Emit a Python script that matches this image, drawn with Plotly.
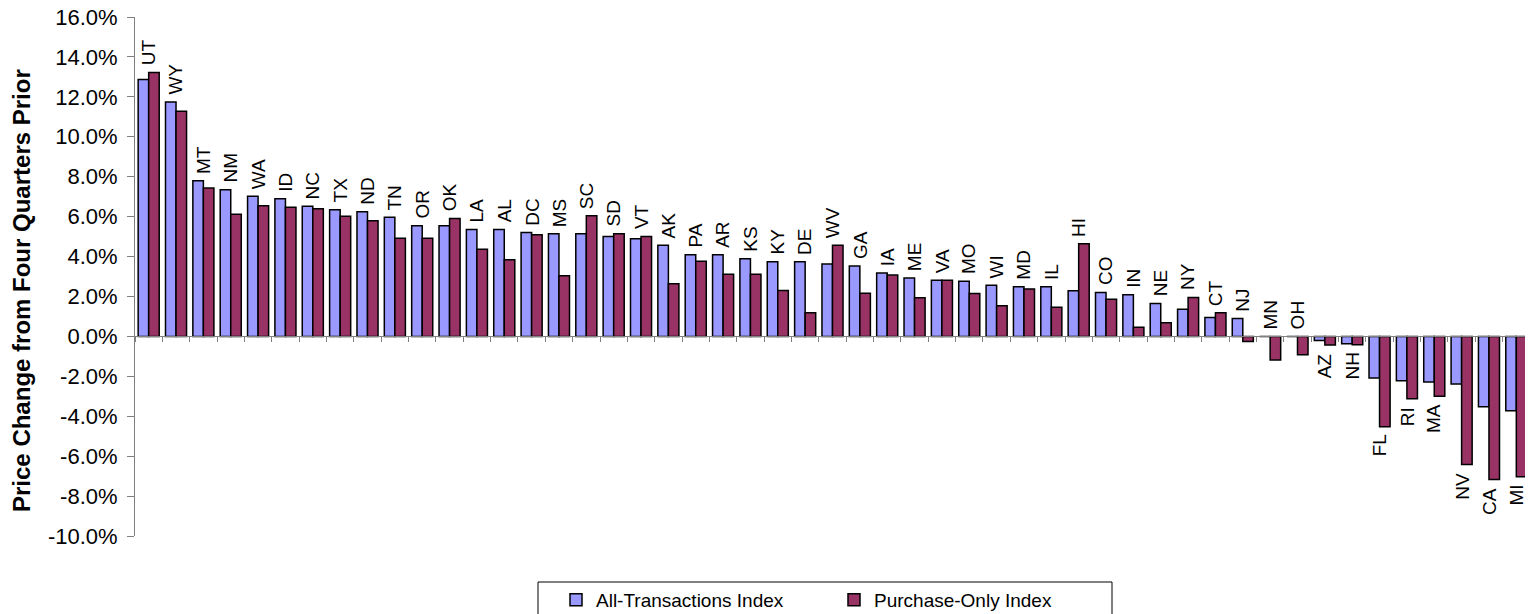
import plotly.graph_objects as go

states = ["UT", "WY", "MT", "NM", "WA", "ID", "NC", "TX", "ND", "TN", "OR", "OK", "LA",
          "AL", "DC", "MS", "SC", "SD", "VT", "AK", "PA", "AR", "KS", "KY", "DE", "WV",
          "GA", "IA", "ME", "VA", "MO", "WI", "MD", "IL", "HI", "CO", "IN", "NE", "NY",
          "CT", "NJ", "MN", "OH", "AZ", "NH", "FL", "RI", "MA", "NV", "CA", "MI"]

all_transactions = [12.87, 11.74, 7.80, 7.35, 7.02, 6.89, 6.52, 6.34, 6.24, 5.97, 5.54, 5.54, 5.35,
                    5.35, 5.20, 5.14, 5.14, 5.00, 4.89, 4.57, 4.09, 4.09, 3.89, 3.74, 3.74, 3.62,
                    3.52, 3.17, 2.92, 2.81, 2.76, 2.56, 2.49, 2.49, 2.28, 2.20, 2.08, 1.65, 1.36,
                    0.95, 0.90, 0.00, 0.00, -0.21, -0.37, -2.08, -2.22, -2.28, -2.38, -3.53, -3.72]

purchase_only = [13.22, 11.28, 7.43, 6.12, 6.55, 6.47, 6.39, 6.02, 5.79, 4.92, 4.92, 5.90, 4.37,
                 3.84, 5.09, 3.04, 6.04, 5.14, 5.00, 2.64, 3.76, 3.11, 3.11, 2.30, 1.18, 4.57,
                 2.16, 3.07, 1.93, 2.81, 2.15, 1.53, 2.38, 1.46, 4.64, 1.86, 0.46, 0.68, 1.95,
                 1.18, -0.25, -1.18, -0.92, -0.43, -0.42, -4.53, -3.13, -3.00, -6.42, -7.17, -7.03]

y_ticks = [-10, -8, -6, -4, -2, 0, 2, 4, 6, 8, 10, 12, 14, 16]
y_tick_text = ["%.1f%%" % v for v in y_ticks]

FONT = "Liberation Sans, Arial, sans-serif"
BLUE = "#9999FF"
PLUM = "#993366"

# the page body has an 8px margin; the figure is sized so that it fills the window
OFF = 8
W, H = 1533 - OFF, 614 - OFF
ML, MR, MT, MB = 135 - OFF, 3, 17 - OFF, 78
PW, PH = W - ML - MR, H - MT - MB


def px_x(page_x):
    return (page_x - OFF - ML) / PW


def px_y(page_y):
    return (H - MB - (page_y - OFF)) / PH


fig = go.Figure()
fig.add_trace(go.Bar(x=states, y=all_transactions, name="All-Transactions Index",
                     marker=dict(color=BLUE, line=dict(color="#000000", width=1.5))))
fig.add_trace(go.Bar(x=states, y=purchase_only, name="Purchase-Only Index",
                     marker=dict(color=PLUM, line=dict(color="#000000", width=1.5))))

annotations = []
for s, a, p in zip(states, all_transactions, purchase_only):
    top = max(a, p)
    if top >= 0:
        annotations.append(dict(x=s, y=top, text=s, textangle=-90, showarrow=False,
                                xref="x", yref="y", yanchor="bottom", xanchor="center",
                                yshift=5, font=dict(family=FONT, size=19, color="#000000")))
    else:
        annotations.append(dict(x=s, y=min(a, p), text=s, textangle=-90, showarrow=False,
                                xref="x", yref="y", yanchor="top", xanchor="center",
                                yshift=-6, font=dict(family=FONT, size=19, color="#000000")))

annotations.append(dict(text="<b>Price Change from Four Quarters Prior</b>", textangle=-90,
                        xref="paper", yref="paper", x=px_x(22), y=px_y(291), showarrow=False,
                        xanchor="center", yanchor="middle",
                        font=dict(family=FONT, size=24, color="#000000")))

shapes = [dict(type="rect", xref="paper", yref="paper",
               x0=px_x(538), x1=px_x(1112), y0=px_y(640), y1=px_y(582),
               line=dict(color="#000000", width=1), fillcolor="rgba(0,0,0,0)", layer="above")]

fig.update_layout(
    template="none",
    width=W, height=H,
    margin=dict(l=ML, r=MR, t=MT, b=MB, autoexpand=False),
    paper_bgcolor="white", plot_bgcolor="white",
    barmode="group", bargap=0.23, bargroupgap=0.0,
    font=dict(family=FONT, size=19, color="#000000"),
    showlegend=True,
    legend=dict(orientation="h", x=px_x(556), y=px_y(581), xanchor="left", yanchor="top",
                borderwidth=0, bgcolor="rgba(0,0,0,0)",
                font=dict(family=FONT, size=19, color="#000000"),
                entrywidth=233, entrywidthmode="pixels", traceorder="normal"),
    annotations=annotations,
    shapes=shapes,
)

fig.update_xaxes(type="category", showticklabels=False, tickson="boundaries",
                 ticks="outside", ticklen=5, tickcolor="#808080", tickwidth=1,
                 showline=True, linecolor="#808080", linewidth=1, automargin=False,
                 anchor="free", position=10 / 26, showgrid=False, zeroline=False,
                 range=[-0.5, len(states) - 0.5])

fig.update_yaxes(range=[-10, 16], tickvals=y_ticks, ticktext=y_tick_text,
                 ticks="outside", ticklen=7, tickcolor="#808080", tickwidth=1,
                 showline=True, linecolor="#808080", linewidth=1, automargin=False,
                 showgrid=False, zeroline=False, ticklabelstandoff=5,
                 ticklabeloverflow="allow",
                 tickfont=dict(family=FONT, size=22, color="#000000"))

fig.write_html("out.html")
